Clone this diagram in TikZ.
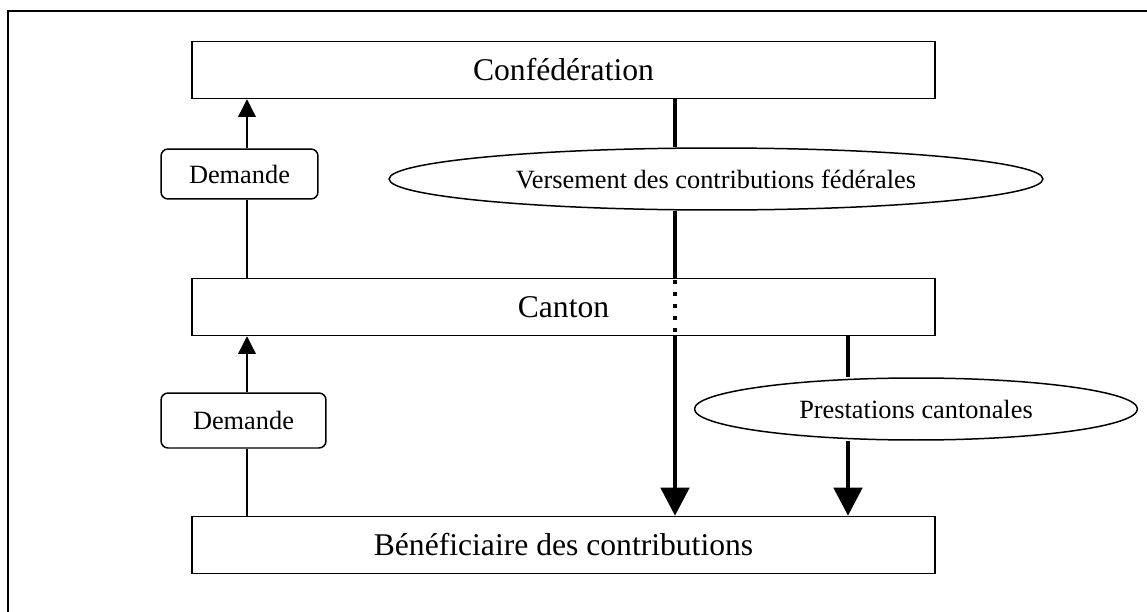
\documentclass[tikz,border=0pt]{standalone}
\usepackage{fontspec}
\setmainfont{Liberation Serif}
\usetikzlibrary{arrows.meta,shapes.geometric}

\begin{document}
\begin{tikzpicture}[x=0.02cm, y=-0.02cm,
    level/.style={draw, line width=0.85pt, fill=white, minimum width=14.86cm, minimum height=1.14cm, font=\fontsize{18}{22}\selectfont},
    demande/.style={draw, line width=0.85pt, rounded corners=4pt, fill=white, font=\fontsize{15}{18}\selectfont},
    flux/.style={draw, ellipse, line width=0.85pt, fill=white, inner sep=0pt, minimum height=1.24cm, font=\fontsize{15}{18}\selectfont},
    demline/.style={line width=0.75pt, -{Triangle[width=10pt,length=10pt]}},
    money/.style={line width=2.6pt}]
    \useasboundingbox (0,0) rectangle (1147,612);
    \draw[line width=1.1pt] (8,11) rectangle (1200,700);

    % levels
    \node[level] (conf) at (563.5,70) {Confédération};
    \node[level] (canton) at (563.5,307) {Canton};
    \node[level] (benef) at (563.5,545) {Bénéficiaire des contributions};

    % requests
    \node[demande, minimum width=3.14cm, minimum height=1cm] (dem1) at (239.5,174) {Demande};
    \node[demande, minimum width=3.3cm, minimum height=1.1cm] (dem2) at (243.5,420.5) {Demande};

    % flows
    \node[flux, minimum width=13.08cm] (vers) at (716,179) {Versement des contributions fédérales};
    \node[flux, minimum width=8.86cm] (prest) at (916,409) {Prestations cantonales};

    \coordinate (dx) at (247,0);
    \coordinate (fx) at (675,0);
    \coordinate (cx) at (848,0);

    \draw[demline] (dem1.north -| dx) -- (conf.south -| dx);
    \draw[demline, -] (dem1.south -| dx) -- (canton.north -| dx);
    \draw[demline] (dem2.north -| dx) -- (canton.south -| dx);
    \draw[demline, -] (dem2.south -| dx) -- (benef.north -| dx);

    \draw[money] (conf.south -| fx) -- (vers.north -| fx);
    \draw[money] (vers.south -| fx) -- (canton.north -| fx);
    \draw[money, dash pattern=on 2.6pt off 4.2pt, dash phase=5.6pt] (canton.north -| fx) -- (canton.south -| fx);
    \draw[money, -{Triangle[width=16pt,length=16pt]}] (canton.south -| fx) -- (benef.north -| fx);
    \draw[money] (canton.south -| cx) -- (prest.north -| cx);
    \draw[money, -{Triangle[width=16pt,length=16pt]}] (prest.south -| cx) -- (benef.north -| cx);
\end{tikzpicture}
\end{document}
